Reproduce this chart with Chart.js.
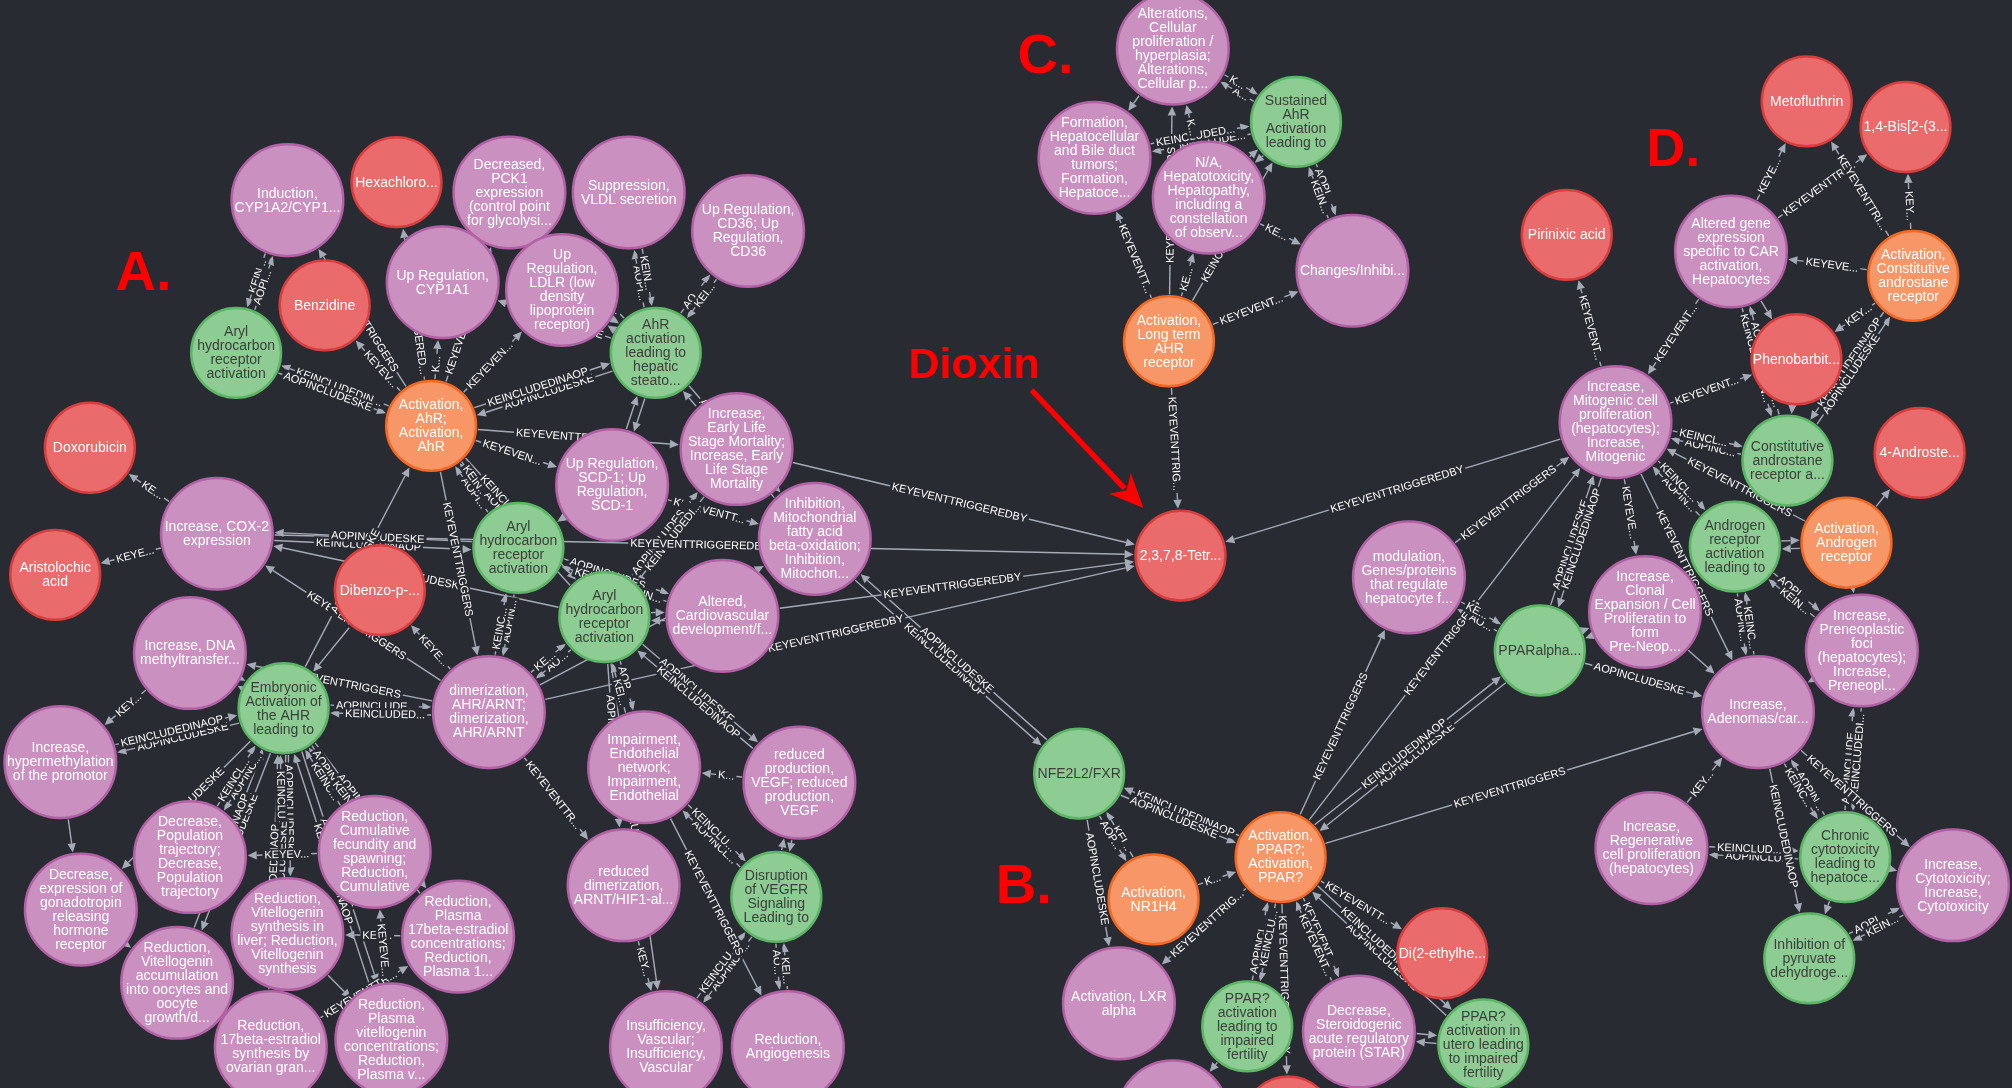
<!DOCTYPE html>
<html>
<head>
<meta charset="utf-8">
<title>AOP network - Dioxin</title>
<script src="https://cdn.jsdelivr.net/npm/chart.js@4.4.0/dist/chart.umd.min.js"></script>
<style>
  html, body { margin: 0; padding: 0; background: #292b33; }
  #wrap { width: 2012px; height: 1088px; position: relative; }
</style>
</head>
<body>
<div id="wrap"><canvas id="aopGraph"></canvas></div>
<script>
// ---- nodes (x / y in picture units, 0..1568 x 0..848) ----
const nodeKeys = [
  'cyp1a2', 'hexa', 'pck1', 'vldl', 'cd36', 'benz', 'aop7', 'cyp1a1', 'ldlr', 'aop10',
  'mieAhr', 'doxo', 'els', 'scd1', 'cox2', 'aop16', 'fao', 'aris', 'dibenzo', 'aop20',
  'cardio', 'dnmt', 'aop23', 'dimer', 'hyper', 'endo', 'vegf', 'pop', 'fecund', 'gnrh',
  'arnt', 'aop32', 'vtgSyn', 'e2Plasma', 'vtgOocyte', 'e2Syn', 'vtgPlasma', 'vasc', 'angio', 'tcdd',
  'prolif', 'aop42', 'tumors', 'hepatotox', 'changes', 'mieLong', 'aop47', 'miePpar', 'mieNr1h4', 'dehp',
  'lxr', 'aop52', 'star', 'aop54', 'keBottom', 'chemBottom', 'meto', 'bis', 'pirinixic', 'carGene',
  'mieCar', 'pheno', 'mitogenic', 'aopCar', 'androste', 'aopAr', 'mieAr', 'modul', 'clonal', 'foci',
  'aopPpara', 'adenoma', 'regen', 'aopCyto', 'cytotox', 'aopPdh'
];
const nodeKinds = [
  'ke', 'chem', 'ke', 'ke', 'ke', 'chem', 'aop', 'ke', 'ke', 'aop',
  'mie', 'chem', 'ke', 'ke', 'ke', 'aop', 'ke', 'chem', 'chem', 'aop',
  'ke', 'ke', 'aop', 'ke', 'ke', 'ke', 'ke', 'ke', 'ke', 'ke',
  'ke', 'aop', 'ke', 'ke', 'ke', 'ke', 'ke', 'ke', 'ke', 'chem',
  'ke', 'aop', 'ke', 'ke', 'ke', 'mie', 'aop', 'mie', 'mie', 'chem',
  'ke', 'aop', 'ke', 'aop', 'ke', 'chem', 'chem', 'chem', 'chem', 'ke',
  'mie', 'chem', 'ke', 'aop', 'chem', 'aop', 'mie', 'ke', 'ke', 'ke',
  'aop', 'ke', 'ke', 'aop', 'ke', 'aop'
];
const nodeX = [
  224, 309, 397, 490, 583, 253, 184, 345, 438, 511,
  336, 70, 574, 477, 169, 404, 635, 43, 296, 471,
  563, 148, 221, 381, 47, 502, 623, 148, 292, 63,
  486, 605, 224, 357, 138, 211, 305, 519, 614, 920,
  914, 1010, 853, 942, 1054, 911, 841, 998, 899, 1124,
  872, 972, 1059, 1156, 914, 1004, 1408, 1485, 1221, 1349,
  1491, 1400, 1259, 1393, 1496, 1352, 1439, 1098, 1282, 1451,
  1200, 1370, 1287, 1438, 1522, 1410
];
const nodeY = [
  156, 142, 150, 150, 180, 238, 275, 220, 226, 275,
  332, 349, 350, 378, 416, 427, 420, 448, 460, 481,
  480, 509, 552, 555, 594, 598, 610, 668, 664, 709,
  690, 699, 728, 730, 766, 816, 810, 816, 816, 433,
  38, 95, 123, 154, 211, 266, 603, 668, 701, 743,
  782, 800, 804, 814, 870, 874, 79, 99, 183, 196,
  215, 280, 329, 359, 353, 426, 423, 450, 477, 507,
  507, 555, 661, 668, 690, 747
];
const ARYL = 'Aryl\nhydrocarbon\nreceptor\nactivation';
const nodeText = [
  'Induction,\nCYP1A2/CYP1...',
  'Hexachloro...',
  'Decreased,\nPCK1\nexpression\n(control point\nfor glycolysi...',
  'Suppression,\nVLDL secretion',
  'Up Regulation,\nCD36; Up\nRegulation,\nCD36',
  'Benzidine',
  ARYL,
  'Up Regulation,\nCYP1A1',
  'Up\nRegulation,\nLDLR (low\ndensity\nlipoprotein\nreceptor)',
  'AhR\nactivation\nleading to\nhepatic\nsteato...',
  'Activation,\nAhR;\nActivation,\nAhR',
  'Doxorubicin',
  'Increase,\nEarly Life\nStage Mortality;\nIncrease, Early\nLife Stage\nMortality',
  'Up Regulation,\nSCD-1; Up\nRegulation,\nSCD-1',
  'Increase, COX-2\nexpression',
  ARYL,
  'Inhibition,\nMitochondrial\nfatty acid\nbeta-oxidation;\nInhibition,\nMitochon...',
  'Aristolochic\nacid',
  'Dibenzo-p-...',
  ARYL,
  'Altered,\nCardiovascular\ndevelopment/f...',
  'Increase, DNA\nmethyltransfer...',
  'Embryonic\nActivation of\nthe AHR\nleading to',
  'dimerization,\nAHR/ARNT;\ndimerization,\nAHR/ARNT',
  'Increase,\nhypermethylation\nof the promotor',
  'Impairment,\nEndothelial\nnetwork;\nImpairment,\nEndothelial',
  'reduced\nproduction,\nVEGF; reduced\nproduction,\nVEGF',
  'Decrease,\nPopulation\ntrajectory;\nDecrease,\nPopulation\ntrajectory',
  'Reduction,\nCumulative\nfecundity and\nspawning;\nReduction,\nCumulative',
  'Decrease,\nexpression of\ngonadotropin\nreleasing\nhormone\nreceptor',
  'reduced\ndimerization,\nARNT/HIF1-al...',
  'Disruption\nof VEGFR\nSignaling\nLeading to',
  'Reduction,\nVitellogenin\nsynthesis in\nliver; Reduction,\nVitellogenin\nsynthesis',
  'Reduction,\nPlasma\n17beta-estradiol\nconcentrations;\nReduction,\nPlasma 1...',
  'Reduction,\nVitellogenin\naccumulation\ninto oocytes and\noocyte\ngrowth/d...',
  'Reduction,\n17beta-estradiol\nsynthesis by\novarian gran...',
  'Reduction,\nPlasma\nvitellogenin\nconcentrations;\nReduction,\nPlasma v...',
  'Insufficiency,\nVascular;\nInsufficiency,\nVascular',
  'Reduction,\nAngiogenesis',
  '2,3,7,8-Tetr...',
  'Alterations,\nCellular\nproliferation /\nhyperplasia;\nAlterations,\nCellular p...',
  'Sustained\nAhR\nActivation\nleading to',
  'Formation,\nHepatocellular\nand Bile duct\ntumors;\nFormation,\nHepatoce...',
  'N/A,\nHepatotoxicity,\nHepatopathy,\nincluding a\nconstellation\nof observ...',
  'Changes/Inhibi...',
  'Activation,\nLong term\nAHR\nreceptor',
  'NFE2L2/FXR',
  'Activation,\nPPAR?;\nActivation,\nPPAR?',
  'Activation,\nNR1H4',
  'Di(2-ethylhe...',
  'Activation, LXR\nalpha',
  'PPAR?\nactivation\nleading to\nimpaired\nfertility',
  'Decrease,\nSteroidogenic\nacute regulatory\nprotein (STAR)',
  'PPAR?\nactivation in\nutero leading\nto impaired\nfertility',
  '',
  '',
  'Metofluthrin',
  '1,4-Bis[2-(3...',
  'Pirinixic acid',
  'Altered gene\nexpression\nspecific to CAR\nactivation,\nHepatocytes',
  'Activation,\nConstitutive\nandrostane\nreceptor',
  'Phenobarbit...',
  'Increase,\nMitogenic cell\nproliferation\n(hepatocytes);\nIncrease,\nMitogenic',
  'Constitutive\nandrostane\nreceptor a...',
  '4-Androste...',
  'Androgen\nreceptor\nactivation\nleading to',
  'Activation,\nAndrogen\nreceptor',
  'modulation,\nGenes/proteins\nthat regulate\nhepatocyte f...',
  'Increase,\nClonal\nExpansion / Cell\nProliferatin to\nform\nPre-Neop...',
  'Increase,\nPreneoplastic\nfoci\n(hepatocytes);\nIncrease,\nPreneopl...',
  'PPARalpha...',
  'Increase,\nAdenomas/car...',
  'Increase,\nRegenerative\ncell proliferation\n(hepatocytes)',
  'Chronic\ncytotoxicity\nleading to\nhepatoce...',
  'Increase,\nCytotoxicity;\nIncrease,\nCytotoxicity',
  'Inhibition of\npyruvate\ndehydroge...'
];

// ---- relationships [from, to, type] ----
const relNames = { T: 'KEYEVENTTRIGGERS', B: 'KEYEVENTTRIGGEREDBY', K: 'KEINCLUDEDINAOP', A: 'AOPINCLUDESKE', '-': '' };

const edgesA = [
  ['cyp1a2', 'aop7', 'K'], ['aop7', 'cyp1a2', 'A'], ['mieAhr', 'aop7', 'K'], ['aop7', 'mieAhr', 'A'], ['mieAhr', 'cyp1a2', 'T'],
  ['mieAhr', 'hexa', 'B'], ['mieAhr', 'benz', 'B'],
  ['aop10', 'mieAhr', 'A'], ['mieAhr', 'aop10', 'K'],
  ['aop10', 'pck1', 'A'], ['aop10', 'vldl', 'A'], ['vldl', 'aop10', 'K'], ['aop10', 'cd36', 'A'], ['cd36', 'aop10', 'K'],
  ['aop10', 'cyp1a1', 'A'], ['aop10', 'ldlr', 'A'], ['ldlr', 'aop10', 'K'], ['aop10', 'scd1', 'A'], ['scd1', 'aop10', 'K'],
  ['aop10', 'fao', 'A'], ['fao', 'aop10', 'K'],
  ['mieAhr', 'cyp1a1', 'T'], ['mieAhr', 'ldlr', 'T'], ['mieAhr', 'pck1', 'T'], ['mieAhr', 'scd1', 'T'], ['mieAhr', 'els', 'T'],
  ['scd1', 'fao', 'T'],
  ['aop16', 'mieAhr', 'A'], ['mieAhr', 'aop16', 'K'], ['aop16', 'dimer', 'A'], ['dimer', 'aop16', 'K'],
  ['cox2', 'aop16', 'K'], ['aop16', 'cox2', 'A'], ['aop16', 'cardio', 'A'], ['cardio', 'aop16', 'K'], ['scd1', 'aop16', 'K'],
  ['aop20', 'mieAhr', 'A'], ['mieAhr', 'aop20', 'K'], ['aop20', 'dimer', 'A'], ['dimer', 'aop20', 'K'],
  ['aop20', 'endo', 'A'], ['endo', 'aop20', 'K'], ['aop20', 'vegf', 'A'], ['vegf', 'aop20', 'K'], ['aop20', 'vasc', 'A'],
  ['aop20', 'cardio', 'A'], ['cardio', 'aop20', 'K'], ['aop20', 'els', 'A'], ['els', 'aop20', 'K'], ['aop20', 'cox2', 'A'],
  ['aop20', 'arnt', 'A'],
  ['mieAhr', 'dimer', 'T'], ['dimer', 'cox2', 'T'], ['dimer', 'arnt', 'T'], ['arnt', 'vasc', 'T'], ['dimer', 'fao', '-'],
  ['cox2', 'doxo', 'B'], ['cox2', 'aris', 'B'], ['dimer', 'dibenzo', 'B'], ['dibenzo', 'aop23', '-'],
  ['aop23', 'mieAhr', 'A'], ['aop23', 'dimer', 'A'], ['dimer', 'aop23', 'K'], ['dimer', 'dnmt', 'T'],
  ['aop23', 'dnmt', 'A'], ['dnmt', 'aop23', 'K'], ['aop23', 'hyper', 'A'], ['hyper', 'aop23', 'K'],
  ['dnmt', 'hyper', 'T'], ['hyper', 'gnrh', 'T'], ['aop23', 'gnrh', 'A'],
  ['aop23', 'pop', 'A'], ['pop', 'aop23', 'K'], ['aop23', 'vtgSyn', 'A'], ['vtgSyn', 'aop23', 'K'],
  ['aop23', 'fecund', 'A'], ['fecund', 'aop23', 'K'], ['aop23', 'e2Plasma', 'A'], ['e2Plasma', 'aop23', 'K'],
  ['aop23', 'vtgOocyte', 'A'], ['vtgOocyte', 'aop23', 'K'], ['aop23', 'e2Syn', 'A'], ['e2Syn', 'aop23', 'K'],
  ['aop23', 'vtgPlasma', 'A'], ['vtgPlasma', 'aop23', 'K'],
  ['gnrh', 'vtgOocyte', 'T'], ['e2Syn', 'e2Plasma', 'T'], ['e2Plasma', 'vtgSyn', 'T'], ['vtgSyn', 'vtgPlasma', 'T'],
  ['vtgPlasma', 'fecund', 'T'], ['fecund', 'pop', 'T'], ['vtgOocyte', 'e2Syn', 'T'],
  ['aop32', 'endo', 'A'], ['endo', 'aop32', 'K'], ['aop32', 'vegf', 'A'], ['vegf', 'aop32', 'K'],
  ['aop32', 'vasc', 'A'], ['vasc', 'aop32', 'K'], ['aop32', 'angio', 'A'], ['angio', 'aop32', 'K'],
  ['vegf', 'endo', 'T'], ['endo', 'angio', 'T'], ['endo', 'arnt', '-']
];

const edgesHub = [
  ['els', 'tcdd', 'B'], ['cox2', 'tcdd', 'B'], ['cardio', 'tcdd', 'B'], ['dimer', 'tcdd', 'B'],
  ['mieLong', 'tcdd', 'B'], ['mitogenic', 'tcdd', 'B'],
  ['fao', 'aop47', 'K'], ['aop47', 'fao', 'A']
];

const edgesC = [
  ['aop42', 'prolif', 'A'], ['prolif', 'aop42', 'K'], ['aop42', 'tumors', 'A'], ['tumors', 'aop42', 'K'],
  ['aop42', 'hepatotox', 'A'], ['hepatotox', 'aop42', 'K'], ['aop42', 'changes', 'A'], ['changes', 'aop42', 'K'],
  ['mieLong', 'aop42', 'K'], ['mieLong', 'tumors', 'T'], ['mieLong', 'prolif', 'T'], ['mieLong', 'hepatotox', 'T'],
  ['mieLong', 'changes', 'T'], ['hepatotox', 'changes', 'T'], ['prolif', 'tumors', 'T'], ['hepatotox', 'prolif', 'T']
];

const edgesB = [
  ['miePpar', 'aop47', 'K'], ['aop47', 'miePpar', 'A'], ['aop47', 'lxr', 'A'],
  ['mieNr1h4', 'aop47', 'K'], ['aop47', 'mieNr1h4', 'A'], ['mieNr1h4', 'miePpar', 'T'], ['miePpar', 'lxr', 'T'],
  ['aop52', 'miePpar', 'A'], ['miePpar', 'aop52', 'K'], ['miePpar', 'star', 'T'], ['star', 'miePpar', 'T'],
  ['aop52', 'keBottom', 'A'], ['miePpar', 'chemBottom', 'B'],
  ['aop54', 'miePpar', 'A'], ['miePpar', 'aop54', 'K'], ['aop54', 'star', 'A'], ['star', 'aop54', 'K'],
  ['miePpar', 'dehp', 'B'],
  ['miePpar', 'modul', 'T'], ['miePpar', 'mitogenic', 'T'], ['aopPpara', 'miePpar', 'A'], ['miePpar', 'aopPpara', 'K'],
  ['miePpar', 'adenoma', 'T']
];

const edgesD = [
  ['carGene', 'meto', 'B'], ['carGene', 'bis', 'B'], ['mieCar', 'meto', 'B'], ['mieCar', 'bis', 'B'],
  ['mieCar', 'carGene', 'T'], ['mitogenic', 'pirinixic', 'B'], ['carGene', 'mitogenic', 'T'],
  ['carGene', 'aopCar', 'K'], ['aopCar', 'carGene', 'A'], ['carGene', 'pheno', 'B'], ['mieCar', 'pheno', 'B'],
  ['mieCar', 'aopCar', 'K'], ['aopCar', 'mieCar', 'A'], ['mitogenic', 'pheno', 'B'],
  ['aopCar', 'mitogenic', 'A'], ['mitogenic', 'aopCar', 'K'], ['pheno', 'aopCar', '-'],
  ['mieAr', 'androste', 'B'], ['mieAr', 'mitogenic', 'T'], ['aopAr', 'mitogenic', 'A'], ['mitogenic', 'aopAr', 'K'],
  ['aopAr', 'mieAr', 'A'], ['mieAr', 'aopAr', 'K'], ['aopAr', 'adenoma', 'A'], ['adenoma', 'aopAr', 'K'],
  ['aopAr', 'foci', 'A'], ['foci', 'aopAr', 'K'], ['mieAr', 'foci', 'T'],
  ['aopPpara', 'mitogenic', 'A'], ['mitogenic', 'aopPpara', 'K'], ['aopPpara', 'modul', 'A'], ['modul', 'aopPpara', 'K'],
  ['aopPpara', 'clonal', 'A'], ['clonal', 'aopPpara', 'K'], ['aopPpara', 'adenoma', 'A'],
  ['modul', 'mitogenic', 'T'], ['mitogenic', 'clonal', 'T'], ['clonal', 'adenoma', 'T'], ['mitogenic', 'adenoma', 'T'],
  ['foci', 'adenoma', 'T'],
  ['aopCyto', 'adenoma', 'A'], ['adenoma', 'aopCyto', 'K'], ['aopCyto', 'regen', 'A'], ['regen', 'aopCyto', 'K'],
  ['aopCyto', 'cytotox', 'A'], ['aopCyto', 'foci', 'A'], ['foci', 'aopCyto', 'K'],
  ['adenoma', 'cytotox', 'T'], ['regen', 'adenoma', 'T'],
  ['aopPdh', 'cytotox', 'A'], ['cytotox', 'aopPdh', 'K'], ['adenoma', 'aopPdh', 'K'], ['aopCyto', 'aopPdh', '-']
];

// ---- red annotations (picture units) ----
const noteText = ['A.', 'B.', 'C.', 'D.', 'Dioxin'];
const noteX = [90, 776, 793, 1283, 708];
const noteY = [226, 704, 57, 129, 295];
const noteSize = [56, 56, 56, 54, 43];
const dioxinArrow = [804, 304, 891, 396];

const BG = '#292b33';
const EDGE = '#a5abb6';
const kindFill = { ke: '#c990c0', mie: '#f79767', aop: '#8dcc93', chem: '#e96b6b' };
const kindStroke = { ke: '#b261a5', mie: '#f36924', aop: '#5db665', chem: '#d83e3e' };
const kindInk = { ke: '#ffffff', mie: '#ffffff', aop: '#3c3f3c', chem: '#ffffff' };
const kindRadius = { ke: 43.5, mie: 35, aop: 35, chem: 35 };
const FONT = '"Liberation Sans", Arial, Helvetica, sans-serif';

const keyIndex = {};
nodeKeys.forEach((k, i) => { keyIndex[k] = i; });
const allEdges = [].concat(edgesA, edgesHub, edgesC, edgesB, edgesD);

function unitPx(chart) {
  const xs = chart.scales.x;
  if (!xs || !chart.chartArea) return chart.width / 1568;
  return xs.getPixelForValue(1) - xs.getPixelForValue(0);
}

function nodePixel(chart, i) {
  const xs = chart.scales.x, ys = chart.scales.y;
  return {
    x: xs.getPixelForValue(nodeX[i]),
    y: ys.getPixelForValue(nodeY[i]),
    r: kindRadius[nodeKinds[i]] * unitPx(chart)
  };
}

// relationships: lines, arrow heads and captions, under the nodes
const edgePlugin = {
  id: 'aopEdges',
  beforeDatasetsDraw(chart) {
    const ctx = chart.ctx;
    const groups = {};
    allEdges.forEach((e, n) => {
      const key = [e[0], e[1]].sort().join('|');
      (groups[key] = groups[key] || []).push(n);
    });

    const arrowLen = 9, arrowHalf = 4.2;
    const geo = allEdges.map((e, n) => {
      const pair = [e[0], e[1]].sort();
      const grp = groups[pair.join('|')];
      const off = (grp.indexOf(n) - (grp.length - 1) / 2) * 8;
      const c0 = nodePixel(chart, keyIndex[pair[0]]), c1 = nodePixel(chart, keyIndex[pair[1]]);
      const cl = Math.hypot(c1.x - c0.x, c1.y - c0.y);
      const nx = -(c1.y - c0.y) / cl, ny = (c1.x - c0.x) / cl;

      const a = nodePixel(chart, keyIndex[e[0]]), b = nodePixel(chart, keyIndex[e[1]]);
      const len = Math.hypot(b.x - a.x, b.y - a.y);
      const ux = (b.x - a.x) / len, uy = (b.y - a.y) / len;
      const ra = Math.sqrt(Math.max(a.r * a.r - off * off, 1)) + 2;
      const rb = Math.sqrt(Math.max(b.r * b.r - off * off, 1)) + 2;
      const sx = a.x + ux * ra + nx * off, sy = a.y + uy * ra + ny * off;
      const tx = b.x - ux * rb + nx * off, ty = b.y - uy * rb + ny * off;
      return { e, sx, sy, tx, ty, ux, uy, bx: tx - ux * arrowLen, by: ty - uy * arrowLen };
    });

    ctx.save();
    ctx.strokeStyle = EDGE;
    ctx.fillStyle = EDGE;
    ctx.lineWidth = 1.4;
    geo.forEach(g => {
      ctx.beginPath();
      ctx.moveTo(g.sx, g.sy);
      ctx.lineTo(g.bx, g.by);
      ctx.stroke();
      ctx.beginPath();
      ctx.moveTo(g.tx, g.ty);
      ctx.lineTo(g.bx - g.uy * arrowHalf, g.by + g.ux * arrowHalf);
      ctx.lineTo(g.bx + g.uy * arrowHalf, g.by - g.ux * arrowHalf);
      ctx.closePath();
      ctx.fill();
    });

    ctx.font = '11px ' + FONT;
    ctx.textAlign = 'center';
    ctx.textBaseline = 'middle';
    geo.forEach(g => {
      let txt = relNames[g.e[2]];
      if (!txt) return;
      const avail = Math.hypot(g.bx - g.sx, g.by - g.sy) - 10;
      if (ctx.measureText(txt).width > avail) {
        while (txt.length && ctx.measureText(txt + '...').width > avail) txt = txt.slice(0, -1);
        if (!txt.length) return;
        txt += '...';
      }
      const w = ctx.measureText(txt).width;
      let ang = Math.atan2(g.uy, g.ux);
      if (ang > Math.PI / 2 || ang < -Math.PI / 2) ang += Math.PI;
      ctx.save();
      ctx.translate((g.sx + g.bx) / 2, (g.sy + g.by) / 2);
      ctx.rotate(ang);
      ctx.fillStyle = BG;
      ctx.fillRect(-w / 2 - 2, -6, w + 4, 12);
      ctx.fillStyle = '#ffffff';
      ctx.fillText(txt, 0, 0.5);
      ctx.restore();
    });
    ctx.restore();
  }
};

// captions inside the circles
const nodeLabelPlugin = {
  id: 'nodeLabels',
  afterDatasetsDraw(chart) {
    const ctx = chart.ctx;
    ctx.save();
    ctx.font = '14px ' + FONT;
    ctx.textAlign = 'center';
    ctx.textBaseline = 'middle';
    nodeKeys.forEach((k, i) => {
      if (!nodeText[i]) return;
      const p = nodePixel(chart, i);
      const lines = nodeText[i].split('\n');
      const lh = 14;
      const top = p.y - (lines.length - 1) * lh / 2;
      ctx.fillStyle = kindInk[nodeKinds[i]];
      lines.forEach((ln, j) => ctx.fillText(ln, p.x, top + j * lh + 0.5));
    });
    ctx.restore();
  }
};

// red panel letters and the Dioxin arrow
const notePlugin = {
  id: 'notes',
  afterDraw(chart) {
    const ctx = chart.ctx, xs = chart.scales.x, ys = chart.scales.y;
    ctx.save();
    ctx.fillStyle = '#ff0000';
    ctx.strokeStyle = '#ff0000';
    ctx.textAlign = 'left';
    ctx.textBaseline = 'alphabetic';
    noteText.forEach((t, i) => {
      ctx.font = 'bold ' + noteSize[i] + 'px ' + FONT;
      ctx.fillText(t, xs.getPixelForValue(noteX[i]), ys.getPixelForValue(noteY[i]));
    });
    const x0 = xs.getPixelForValue(dioxinArrow[0]), y0 = ys.getPixelForValue(dioxinArrow[1]);
    const x1 = xs.getPixelForValue(dioxinArrow[2]), y1 = ys.getPixelForValue(dioxinArrow[3]);
    const l = Math.hypot(x1 - x0, y1 - y0), ux = (x1 - x0) / l, uy = (y1 - y0) / l;
    const head = 34, half = 15;
    ctx.lineWidth = 5.5;
    ctx.beginPath();
    ctx.moveTo(x0, y0);
    ctx.lineTo(x1 - ux * head * 0.8, y1 - uy * head * 0.8);
    ctx.stroke();
    ctx.beginPath();
    ctx.moveTo(x1, y1);
    ctx.lineTo(x1 - ux * head - uy * half, y1 - uy * head + ux * half);
    ctx.lineTo(x1 - ux * head * 0.72, y1 - uy * head * 0.72);
    ctx.lineTo(x1 - ux * head + uy * half, y1 - uy * head - ux * half);
    ctx.closePath();
    ctx.fill();
    ctx.restore();
  }
};

const kinds = ['ke', 'chem', 'aop', 'mie'];
const datasets = kinds.map(kind => ({
  label: kind,
  data: nodeKeys.map((k, i) => (nodeKinds[i] === kind ? { x: nodeX[i], y: nodeY[i] } : null)).filter(Boolean),
  showLine: false,
  clip: false,
  pointRadius: c => kindRadius[kind] * unitPx(c.chart),
  pointHoverRadius: c => kindRadius[kind] * unitPx(c.chart),
  pointBackgroundColor: kindFill[kind],
  pointBorderColor: kindStroke[kind],
  pointBorderWidth: 2.5,
  pointHoverBorderWidth: 2.5
}));

new Chart(document.getElementById('aopGraph'), {
  type: 'scatter',
  data: { datasets: datasets },
  options: {
    responsive: true,
    maintainAspectRatio: false,
    animation: false,
    events: [],
    layout: { padding: 0, autoPadding: false },
    scales: {
      x: { type: 'linear', min: 0, max: 1568, display: false },
      y: { type: 'linear', min: 0, max: 848, reverse: true, display: false }
    },
    plugins: {
      legend: { display: false },
      tooltip: { enabled: false }
    }
  },
  plugins: [edgePlugin, nodeLabelPlugin, notePlugin]
});
</script>
</body>
</html>
